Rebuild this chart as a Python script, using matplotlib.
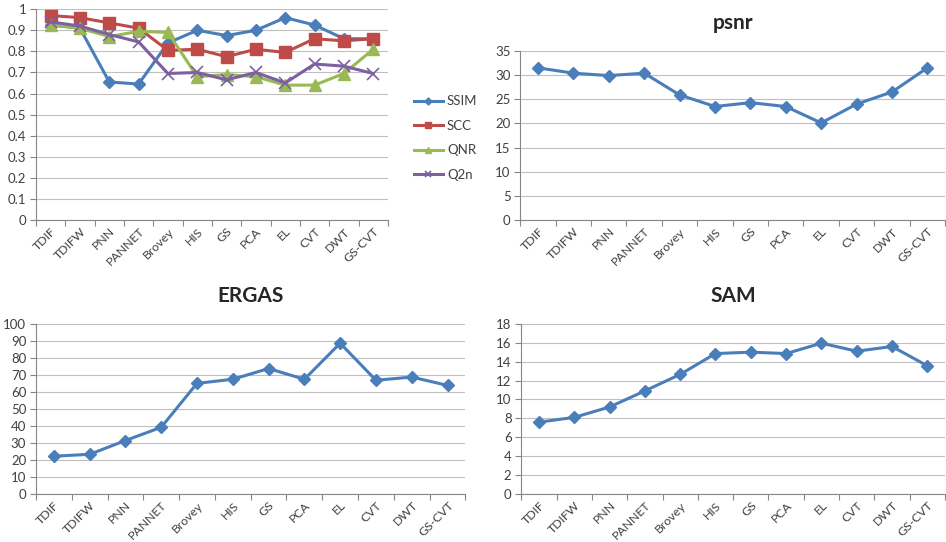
import numpy as np
import matplotlib
matplotlib.use('Agg')
import matplotlib.pyplot as plt
from matplotlib.ticker import FuncFormatter

plt.rcParams['font.family'] = ['Lato', 'DejaVu Sans']

methods = ['TDIF', 'TDIFW', 'PNN', 'PANNET', 'Brovey', 'HIS', 'GS', 'PCA',
           'EL', 'CVT', 'DWT', 'GS-CVT']

ssim = [0.925, 0.91, 0.655, 0.645, 0.84, 0.90, 0.875, 0.90, 0.96, 0.925, 0.86, 0.86]
scc = [0.97, 0.96, 0.935, 0.91, 0.805, 0.81, 0.775, 0.81, 0.795, 0.86, 0.85, 0.86]
qnr = [0.925, 0.91, 0.87, 0.895, 0.89, 0.68, 0.69, 0.68, 0.64, 0.64, 0.695, 0.81]
q2n = [0.94, 0.92, 0.88, 0.845, 0.695, 0.70, 0.665, 0.70, 0.65, 0.74, 0.73, 0.695]

psnr = [31.5, 30.4, 29.9, 30.4, 25.9, 23.5, 24.3, 23.5, 20.1, 24.0, 26.5, 31.5]
ergas = [22.2, 23.3, 31.4, 39.2, 65.0, 67.4, 73.7, 67.4, 88.6, 66.8, 68.7, 63.8]
sam = [7.6, 8.1, 9.2, 10.9, 12.65, 14.85, 15.0, 14.85, 15.95, 15.1, 15.6, 13.55]

blue = '#4A7EBB'
red = '#BE4B48'
green = '#98B954'
purple = '#7D60A0'
grid_c = '#BFBFBF'
axis_c = '#868686'
text_c = '#404040'


def style_axes(ax, ymax, ystep, title=None):
    x = np.arange(len(methods))
    ax.set_xlim(-0.5, len(methods) - 0.5)
    ax.set_ylim(0, ymax)
    ax.set_yticks(np.arange(0, ymax + ystep / 2, ystep))
    ax.yaxis.set_major_formatter(FuncFormatter(lambda v, p: '{:g}'.format(round(v, 2))))
    ax.set_xticks(x)
    ax.set_xticklabels(methods, rotation=45, ha='right', rotation_mode='anchor',
                       fontsize=8.8, color=text_c)
    ax.set_xticks(np.arange(-0.5, len(methods)), minor=True)
    ax.tick_params(axis='x', which='major', length=0, pad=4)
    ax.tick_params(axis='x', which='minor', length=4, color=axis_c, width=0.8)
    ax.tick_params(axis='y', length=4, color=axis_c, width=0.8, labelsize=9.5,
                   labelcolor=text_c, pad=3)
    ax.grid(axis='y', color=grid_c, linewidth=0.8)
    ax.set_axisbelow(True)
    for s in ['top', 'right']:
        ax.spines[s].set_visible(False)
    ax.spines['left'].set_color(axis_c)
    ax.spines['bottom'].set_color(axis_c)
    if title:
        ax.set_title(title, fontsize=15, fontweight='bold', color='#262626', pad=16)
    return x


fig = plt.figure(figsize=(9.46, 5.42), dpi=100)

# top left: quality indexes
ax1 = fig.add_axes([0.038, 0.594, 0.372, 0.389])
x = style_axes(ax1, 1.0, 0.1)
ax1.plot(x, ssim, color=blue, lw=2.2, marker='D', ms=6, label='SSIM')
ax1.plot(x, scc, color=red, lw=2.2, marker='s', ms=8, label='SCC')
ax1.plot(x, qnr, color=green, lw=2.2, marker='^', ms=8, label='QNR')
ax1.plot(x, q2n, color=purple, lw=2.2, marker='x', ms=8, mew=1.2, label='Q2n')
fig.legend(handles=ax1.get_lines(), loc='center left', bbox_to_anchor=(0.425, 0.745),
           frameon=False, fontsize=9.5, handlelength=2.2, labelspacing=0.95,
           handletextpad=0.3, labelcolor=text_c, markerscale=0.6)

# top right: psnr
ax2 = fig.add_axes([0.550, 0.594, 0.449, 0.312])
x = style_axes(ax2, 35, 5, 'psnr')
ax2.plot(x, psnr, color=blue, lw=2.2, marker='D', ms=6)

# bottom left: ERGAS
ax3 = fig.add_axes([0.038, 0.0886, 0.454, 0.314])
x = style_axes(ax3, 100, 10, 'ERGAS')
ax3.plot(x, ergas, color=blue, lw=2.2, marker='D', ms=6)

# bottom right: SAM
ax4 = fig.add_axes([0.551, 0.0886, 0.448, 0.314])
x = style_axes(ax4, 18, 2, 'SAM')
ax4.plot(x, sam, color=blue, lw=2.2, marker='D', ms=6)

fig.savefig('out.png', dpi=100)
